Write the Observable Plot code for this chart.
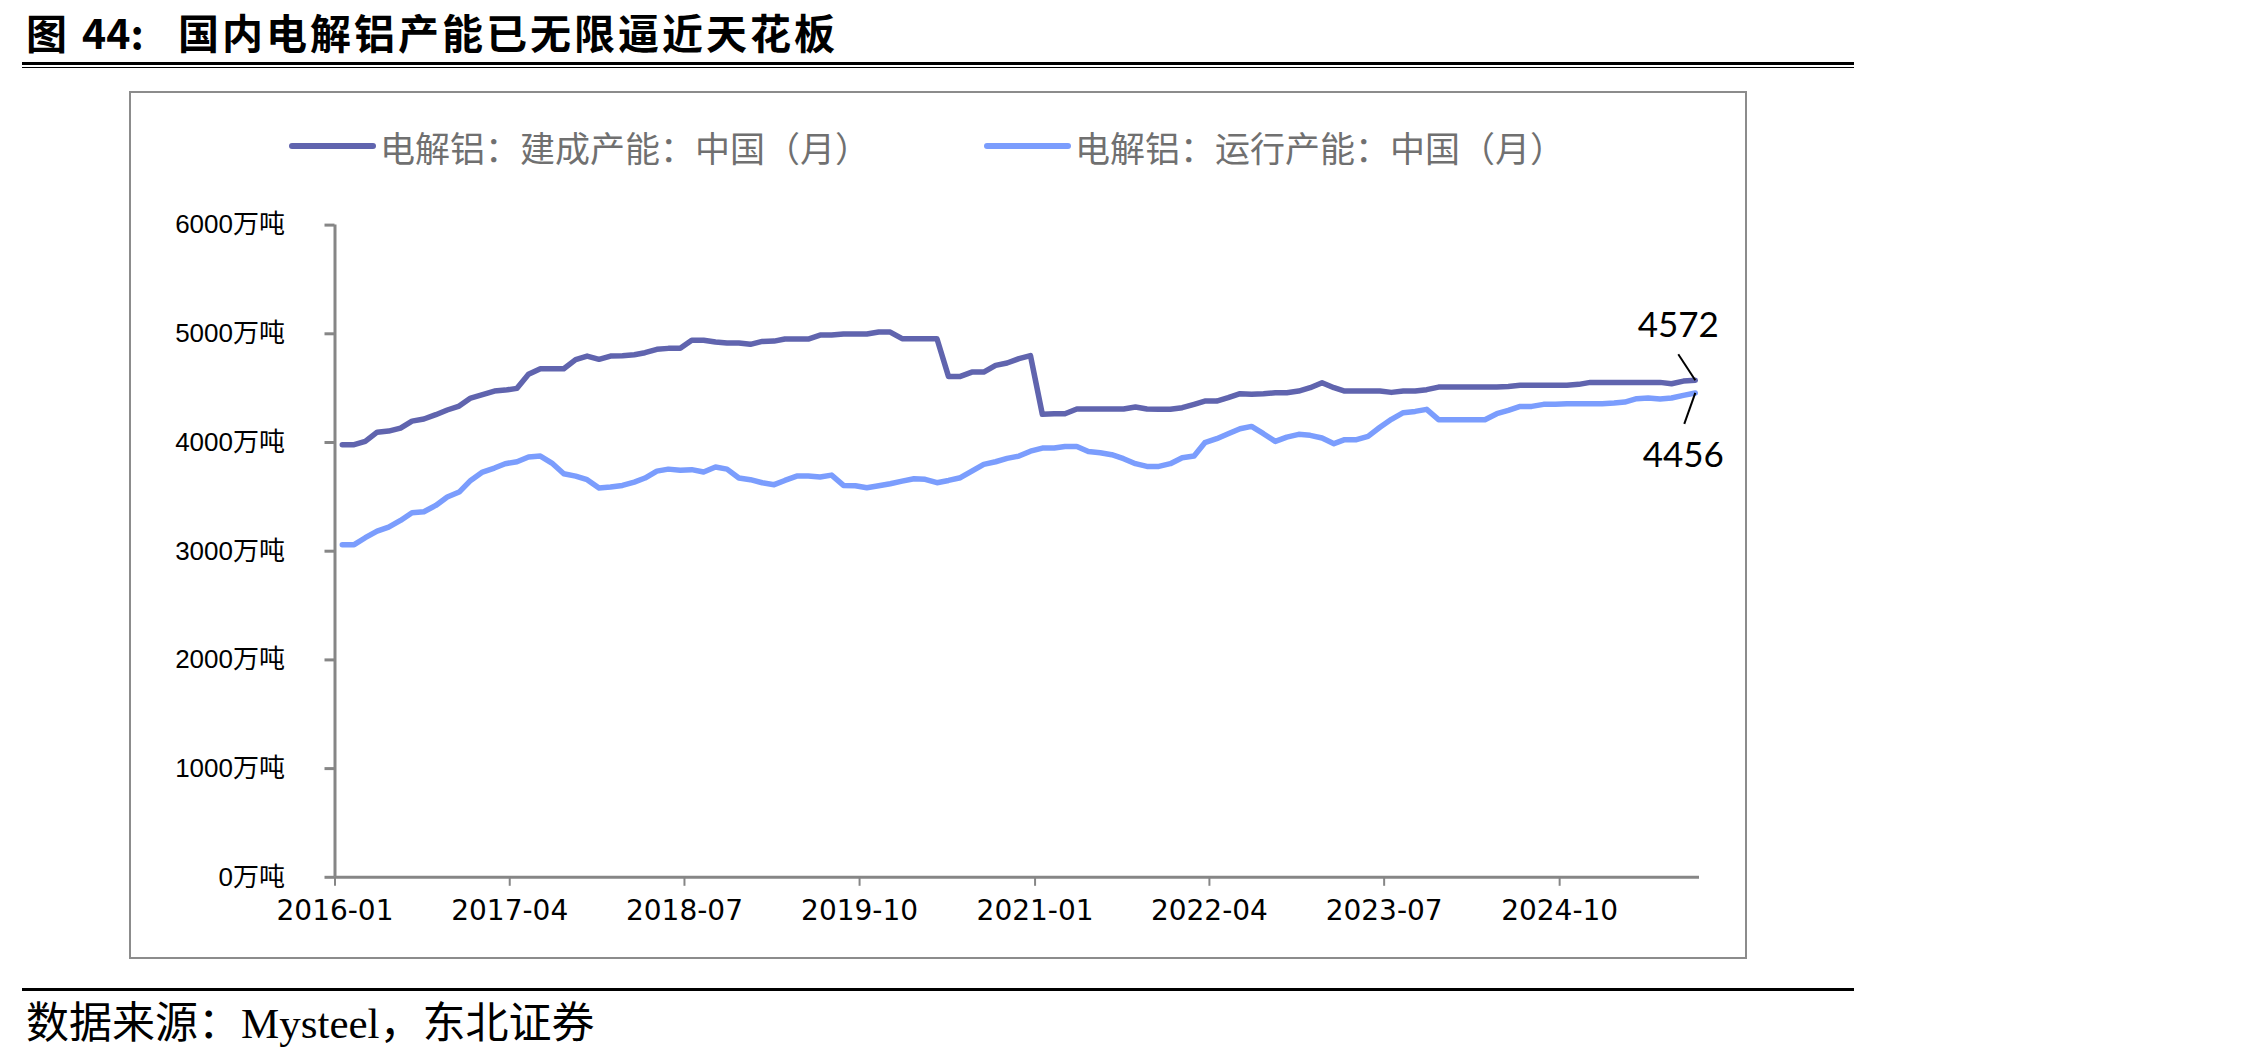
<!DOCTYPE html>
<html>
<head>
<meta charset="utf-8">
<script src="https://cdn.jsdelivr.net/npm/d3@7"></script>
<script src="https://cdn.jsdelivr.net/npm/@observablehq/plot@0.6"></script>
<style>
  html, body { margin: 0; padding: 0; background: #fff; }
  #page { position: relative; width: 2268px; height: 1055px; overflow: hidden; background: #fff; }
  .abs { position: absolute; white-space: pre; }
  .title { font-family: "Noto Sans CJK SC", sans-serif; font-weight: 700; font-size: 41px; line-height: normal; color: #000; top: 1px; }
  .rule { position: absolute; background: #000; }
  .frame { position: absolute; left: 129px; top: 91px; width: 1614px; height: 864px; border: 2px solid #8c8c8c; }
  .legend-item { position: absolute; top: 121px; height: 50px; display: flex; align-items: center; }
  .swatch { width: 87px; height: 6px; border-radius: 3px; margin-right: 4px; }
  .legend-text { font-family: "Noto Sans CJK SC", sans-serif; font-size: 35px; color: #707070; }
  .source { left: 26px; top: 998px; font-size: 43px; line-height: 52px; color: #000; font-family: "Liberation Serif", "Noto Sans CJK SC", serif; }
  #chart { position: absolute; left: 129px; top: 190px; }
</style>
</head>
<body>
<div id="page">
  <div class="abs title" style="left:26px">图</div>
  <div class="abs title" style="left:82px">44:</div>
  <div class="abs title" style="left:178px; letter-spacing:3px">国内电解铝产能已无限逼近天花板</div>
  <div class="rule" style="left:22px; top:62px; width:1832px; height:3px"></div>
  <div class="rule" style="left:22px; top:67px; width:1832px; height:1px"></div>

  <div class="frame"></div>
  <div class="legend-item" style="left:289px">
    <div class="swatch" style="background:#6064ae"></div><span class="legend-text" id="lg0"></span>
  </div>
  <div class="legend-item" style="left:984px">
    <div class="swatch" style="background:#7b9dfd"></div><span class="legend-text" id="lg1"></span>
  </div>

  <div id="chart"></div>

  <div class="rule" style="left:22px; top:988px; width:1832px; height:3px"></div>
  <div class="abs source">数据来源：Mysteel，东北证券</div>
</div>
<script>
// Series names
const seriesNames = ["电解铝：建成产能：中国（月）", "电解铝：运行产能：中国（月）"];
const seriesColors = ["#6064ae", "#7b9dfd"];

// Monthly observations, 2016-01 through 2025-09 (万吨)
const firstMonth = "2016-01";
const builtCapacity = [
  3980, 3980, 4010, 4095, 4105, 4133, 4197, 4216, 4256, 4299, 4335, 4409,
  4440, 4473, 4482, 4498, 4627, 4679, 4679, 4679, 4762, 4795, 4765, 4795,
  4798, 4808, 4826, 4857, 4866, 4866, 4940, 4940, 4924, 4915, 4915, 4903,
  4930, 4933, 4952, 4952, 4952, 4988, 4988, 4998, 4998, 4998, 5016, 5016,
  4955, 4955, 4955, 4955, 4608, 4608, 4648, 4648, 4710, 4731, 4771, 4799,
  4259, 4265, 4265, 4308, 4308, 4308, 4308, 4308, 4326, 4308, 4305, 4305,
  4320, 4351, 4381, 4381, 4412, 4449, 4443, 4449, 4458, 4458, 4473, 4504,
  4550, 4504, 4473, 4473, 4473, 4473, 4461, 4473, 4473, 4486, 4510, 4510,
  4510, 4510, 4510, 4510, 4516, 4526, 4526, 4526, 4526, 4526, 4535, 4553,
  4553, 4553, 4553, 4553, 4553, 4553, 4541, 4565, 4572
];
const runningCapacity = [
  3060, 3060, 3124, 3185, 3222, 3283, 3354, 3363, 3421, 3498, 3544, 3651,
  3728, 3765, 3805, 3823, 3866, 3875, 3811, 3713, 3691, 3658, 3581, 3590,
  3605, 3636, 3673, 3737, 3755, 3745, 3750, 3728, 3774, 3755, 3673, 3658,
  3630, 3612, 3651, 3691, 3691, 3682, 3700, 3605, 3602, 3584, 3602, 3621,
  3645, 3667, 3661, 3630, 3651, 3676, 3737, 3799, 3823, 3854, 3875, 3920,
  3949, 3949, 3964, 3964, 3918, 3906, 3888, 3851, 3805, 3780, 3780, 3805,
  3860, 3875, 3998, 4035, 4081, 4127, 4148, 4081, 4010, 4050, 4075, 4066,
  4041, 3989, 4026, 4026, 4056, 4140, 4213, 4274, 4286, 4305, 4210, 4210,
  4210, 4210, 4210, 4265, 4295, 4332, 4332, 4351, 4351, 4357, 4357, 4357,
  4357, 4363, 4372, 4403, 4409, 4400, 4409, 4434, 4456
];

// Axis ticks
const xTickLabels = ["2016-01", "2017-04", "2018-07", "2019-10", "2021-01", "2022-04", "2023-07", "2024-10"];
const yTicks = [0, 1000, 2000, 3000, 4000, 5000, 6000];
const yUnit = "万吨";
const axisEnd = "2025-10";

document.getElementById("lg0").textContent = seriesNames[0];
document.getElementById("lg1").textContent = seriesNames[1];

const parseMonth = d3.utcParse("%Y-%m");
// Observations are dated in the latter part of each month
const monthDate = (i) => {
  const m = d3.utcMonth.offset(parseMonth(firstMonth), i);
  return d3.utcDay.offset(m, 19);
};
const built = builtCapacity.map((v, i) => ({date: monthDate(i), value: v}));
const running = runningCapacity.map((v, i) => ({date: monthDate(i), value: v}));

const xDomain = [parseMonth(firstMonth), parseMonth(axisEnd)];
const yDomain = [0, d3.max(yTicks)];

// Chart geometry
const W = 1618, H = 769;
const mL = 205.5, mR = 48, mT = 34.6, mB = 82.2;
const msPerPx = (xDomain[1] - xDomain[0]) / (W - mL - mR);
const unitsPerPx = (yDomain[1] - yDomain[0]) / (H - mT - mB);

const lastBuilt = built[built.length - 1];
const lastRunning = running[running.length - 1];
// Leader lines from the last points toward their value labels (offsets in pixels)
const leaders = [
  {x1: lastBuilt.date, y1: lastBuilt.value,
   x2: new Date(+lastBuilt.date - 17 * msPerPx), y2: lastBuilt.value + 26 * unitsPerPx},
  {x1: lastRunning.date, y1: lastRunning.value,
   x2: new Date(+lastRunning.date - 11 * msPerPx), y2: lastRunning.value - 31 * unitsPerPx}
];

const axisGray = "#868686";

const chart = Plot.plot({
  width: W,
  height: H,
  marginLeft: mL,
  marginRight: mR,
  marginTop: mT,
  marginBottom: mB,
  style: {background: "transparent", color: "#000", overflow: "visible"},
  x: {type: "utc", domain: xDomain},
  y: {domain: yDomain},
  marks: [
    Plot.ruleX([xDomain[0]], {y1: yDomain[0], y2: yDomain[1], stroke: axisGray, strokeWidth: 3}),
    Plot.ruleY([0], {x1: xDomain[0], x2: xDomain[1], stroke: axisGray, strokeWidth: 3}),
    Plot.axisY({
      ticks: yTicks,
      tickSize: 10,
      tickPadding: 40,
      tickFormat: (d) => `${d}${yUnit}`,
      stroke: axisGray,
      strokeWidth: 3,
      fill: "#000",
      fontSize: 26,
      fontFamily: "Liberation Sans, Noto Sans CJK SC, sans-serif",
      label: null
    }),
    Plot.axisX({
      ticks: xTickLabels.map(parseMonth),
      tickFormat: d3.utcFormat("%Y-%m"),
      tickSize: 9,
      tickPadding: 14,
      stroke: axisGray,
      strokeWidth: 2,
      fill: "#000",
      fontSize: 28,
      fontFamily: "DejaVu Sans, sans-serif",
      label: null
    }),
    Plot.line(running, {x: "date", y: "value", stroke: seriesColors[1], strokeWidth: 5.5, strokeLinejoin: "round", strokeLinecap: "round"}),
    Plot.line(built, {x: "date", y: "value", stroke: seriesColors[0], strokeWidth: 5.5, strokeLinejoin: "round", strokeLinecap: "round"}),
    Plot.link(leaders, {x1: "x1", y1: "y1", x2: "x2", y2: "y2", stroke: "#000", strokeWidth: 2}),
    Plot.text([lastBuilt], {x: "date", y: "value", text: (d) => String(d.value), dx: -17, dy: -55,
      fontSize: 35, fontFamily: "Lato, Open Sans, sans-serif", fill: "#000"}),
    Plot.text([lastRunning], {x: "date", y: "value", text: (d) => String(d.value), dx: -12, dy: 63,
      fontSize: 35, fontFamily: "Lato, Open Sans, sans-serif", fill: "#000"})
  ]
});

document.getElementById("chart").appendChild(chart);
</script>
</body>
</html>
